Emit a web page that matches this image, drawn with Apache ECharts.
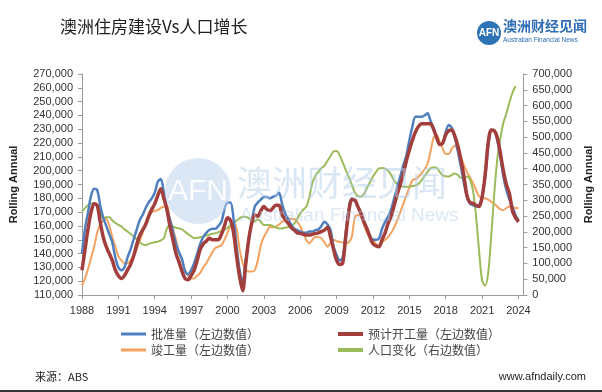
<!DOCTYPE html>
<html><head><meta charset="utf-8">
<script src="https://cdn.jsdelivr.net/npm/echarts@6/dist/echarts.min.js"></script>
<style>html,body{margin:0;padding:0;background:#fff}#c{width:602px;height:392px}</style>
</head><body><div id="c"></div>
<script>
// Quarterly observations starting 1988 Q1 (values in thousands)
const startYear = 1988;
const step = 0.25;
const xTicks = [1988,1991,1994,1997,2000,2003,2006,2009,2012,2015,2018,2021,2024];
const approvals = [
140,158,170,182,187,186,175,166,160,154,148,137,130,128,130,137,143,150,157,164,
168,173,177,180,184,192,194,184,172,165,156,147,141,136,127,125,128,133,140,147,
152,155,157,158,158,160,163,172,177,177,165,145,128,119,135,150,163,174,177,179,
181,181,180,181,182,184,176,169,165,161,158,157,156,155,155,156,156,157,157.5,160,
163,161,157,145,139,135,137,155,172,180,178,174,170,163,158,153,150,150,151,158,
163,167,172,180,188,196,204,211,222,232,239,239,239,240,241.5,236,230,224,219,220,
228,233,231,224,214,203,191,181,176,175,174,175,181,195,217,229,229,222,210,196,
186,179,174,168,164];
const commencements = [
128,143,158,170,176,175,163,152,145,140,135,128,124,122,124,128,132,138,146,153,
157,161,167,172,176,182,187,180,172,160,150,140,134,127,122,121,124,128,135,143,
147,149,151,150,150,150,154,160,166,164,155,138,123,113,132,150,162,168,167,171,
174,172,171,173,175,175,168,165,162,159,157,155,154.6,154,153.5,153.5,154,154.6,155,156,
157,159,152,143,135,132,133,152,170,179,178.8,174,169,163,158,152,147,145.5,145,150,
155,162,167,175,183,190,198,207,215,222,228,232,234,234,234,234,230,224,219,220,
226,229,229.5,225,218,208,196,182,177,176.4,175,174,181,197,220,229.5,229,224,213,200,
190,183.6,171,166,163];
const completions = [
117,122,129,137,145,155,161,164,165,160,152,145,138,135,133,133,135,138,143,149,
155,162,168,170,171,171.5,173,174,175,165,158,150,141,135,128,124,122,122,124,126,
130,133,137,141,144,145,146,150,155,160,162,158,143,133,128,127,127,128,135,146,
152,156,159.5,159,159.5,161,163,164,165.5,165,165,163,160,154.6,150,147.4,150,152,152,151,
148,145,148,150,149,148.6,148,147.5,148,152,166,168,166.7,161,155,152,150,147,145,148,
150,152,155,159,164,170,176,182,188,193,194,195.6,198,201,205,214,224,226,221,216,
212,212,216,218,215,210,204,199,195,191,186,181.5,180,180,179,177.5,176,174,172,171.5,
173,174,173.5,173,173];
const population = [
264,275,285,290,291,282,262,244,246,246,236,228,222,217,208,201,194,185,177,168,
160,158,162,165,167,169,173,180,210,222,217,213,211,208,200,193,186,180,181,183,
185,188,191,194,196,199,203,207,213,220,228,236,243,248,248,243,236,233,240,232,
222,222,222,218,214,211,211,213,215,218,226,240,259,270,280,310,355,378,390,402,
410,425,440,455,456,443,420,396,374,350,325,314,311,320,338,357,375,390,401,402,
400,393,380,362,352,346,343,343,343,345,347,352,363,377,390,401,405,402,390,379,
376,375,380,385,380,371,372,375,365,330,250,140,45,30,69,185,320,430,495,545,
575,610,640,662];

const names = ['批准量（左边数值）','预计开工量（左边数值）','竣工量（左边数值）','人口变化（右边数值）'];
const colors = ['#4f7fbe','#a23f3c','#f4a25f','#9bbb59'];

function pairs(arr){ return arr.map((v,i)=>[startYear + i*step, v]); }
const font = 'Liberation Sans, Arial, sans-serif';
const cjk = '"Noto Sans CJK SC", sans-serif';

const chart = echarts.init(document.getElementById('c'));
chart.setOption({
  animation:false,
  backgroundColor:'#fff',
  grid:{left:80,right:75,top:74,bottom:97},
  xAxis:{type:'value',min:1988,max:2024.4,interval:3,
    axisLine:{lineStyle:{color:'#9a9a9a'}},
    axisTick:{show:true,length:4,lineStyle:{color:'#9a9a9a'}},
    splitLine:{show:false},
    axisLabel:{color:'#333',fontSize:11,fontFamily:font,margin:10,showMaxLabel:false,
      formatter:v=>xTicks.indexOf(v)>=0?String(v):''}},
  yAxis:[
    {type:'value',min:110,max:270,interval:10,position:'left',
      name:'Rolling Annual',nameLocation:'middle',nameRotate:90,nameGap:63,
      nameTextStyle:{fontSize:11,fontWeight:'bold',color:'#222',fontFamily:font},
      axisLine:{show:true,lineStyle:{color:'#9a9a9a'}},
      axisTick:{show:true,length:4,lineStyle:{color:'#9a9a9a'}},
      splitLine:{show:false},
      axisLabel:{color:'#333',fontSize:11,fontFamily:font,margin:9,formatter:v=>v+',000'}},
    {type:'value',min:0,max:700,interval:50,position:'right',
      name:'Rolling Annual',nameLocation:'middle',nameRotate:90,nameGap:58,
      nameTextStyle:{fontSize:11,fontWeight:'bold',color:'#222',fontFamily:font},
      axisLine:{show:true,lineStyle:{color:'#9a9a9a'}},
      axisTick:{show:true,length:4,lineStyle:{color:'#9a9a9a'}},
      splitLine:{show:false},
      axisLabel:{color:'#333',fontSize:11,fontFamily:font,margin:9,formatter:v=>v===0?'0':v+',000'}}
  ],
  legend:[
    {left:121,top:328,padding:0,orient:'vertical',itemGap:4,itemWidth:25,itemHeight:3,icon:'rect',
     data:[names[0],names[2]],textStyle:{fontSize:12,color:'#444',fontFamily:cjk}},
    {left:338,top:328,padding:0,orient:'vertical',itemGap:4,itemWidth:25,itemHeight:4,icon:'rect',
     data:[names[1],names[3]],textStyle:{fontSize:12,color:'#444',fontFamily:cjk}}
  ],
  graphic:[
    {type:'text',left:60,top:18,style:{text:'澳洲住房建设Vs人口增长',font:'17px "Noto Sans CJK SC", sans-serif',fill:'#222'}},
    {type:'circle',shape:{cx:489,cy:33,r:12},style:{fill:'#2f73b7'}},
    {type:'text',x:489,y:33,style:{text:'AFN',font:'bold 10px Liberation Sans, Arial',fill:'#fff',align:'center',verticalAlign:'middle'}},
    {type:'text',x:503,y:26,style:{text:'澳洲财经见闻',font:'bold 14px "Noto Sans CJK SC", sans-serif',fill:'#2f6db5',verticalAlign:'middle'}},
    {type:'text',x:503,y:40,style:{text:'Australian Financial News',font:'6.5px Liberation Sans, Arial',fill:'#2f6db5',verticalAlign:'middle'}},
    {type:'circle',z:100,shape:{cx:198,cy:191,r:33},style:{fill:'rgba(190,211,236,0.55)'}},
    {type:'text',z:101,x:198,y:192,style:{text:'AFN',font:'30px Liberation Sans, Arial',fill:'rgba(255,255,255,0.85)',align:'center',verticalAlign:'middle'}},
    {type:'text',z:100,x:237,y:183,style:{text:'澳洲财经见闻',font:'35px "Noto Sans CJK SC", sans-serif',fill:'rgba(180,205,233,0.5)',verticalAlign:'middle'}},
    {type:'text',z:100,x:240,y:216,style:{text:'Australian Financial News',font:'19px Liberation Sans, Arial',fill:'rgba(180,205,233,0.45)',verticalAlign:'middle'}},
    {type:'text',left:35,top:371,style:{text:'来源：ABS',font:'11px "Noto Sans CJK SC", sans-serif',fill:'#222'}},
    {type:'text',right:16,top:371,style:{text:'www.afndaily.com',font:'11px Liberation Sans, Arial',fill:'#222'}},
    {type:'rect',shape:{x:0,y:390,width:602,height:2},style:{fill:'#333'}}
  ],
  series:[
    {name:names[0],type:'line',yAxisIndex:0,data:pairs(approvals),showSymbol:false,smooth:0.3,
      lineStyle:{width:2.5,color:colors[0]},itemStyle:{color:colors[0]},z:3},
    {name:names[1],type:'line',yAxisIndex:0,data:pairs(commencements),showSymbol:false,smooth:0.3,
      lineStyle:{width:3.5,color:colors[1]},itemStyle:{color:colors[1]},z:4},
    {name:names[2],type:'line',yAxisIndex:0,data:pairs(completions),showSymbol:false,smooth:0.3,
      lineStyle:{width:2,color:colors[2]},itemStyle:{color:colors[2]},z:2},
    {name:names[3],type:'line',yAxisIndex:1,data:pairs(population),showSymbol:false,smooth:0.3,
      lineStyle:{width:2,color:colors[3]},itemStyle:{color:colors[3]},z:2}
  ]
});
</script></body></html>
